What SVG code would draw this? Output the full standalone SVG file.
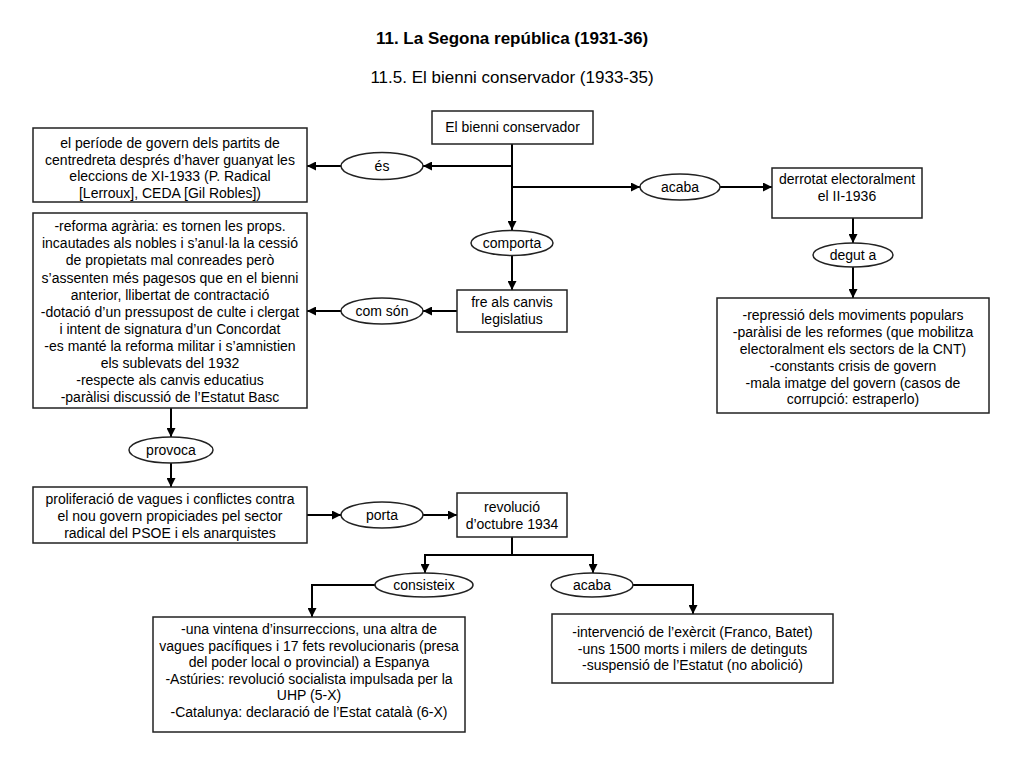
<svg xmlns="http://www.w3.org/2000/svg" width="1024" height="768" viewBox="0 0 1024 768">
<defs>
<marker id="ah" markerUnits="userSpaceOnUse" markerWidth="9" markerHeight="9" viewBox="0 0 10 10" refX="10" refY="5" orient="auto">
<path d="M0,0 L10,5 L0,10 z" fill="#000"/>
</marker>
</defs>
<style>
text{font-family:"Liberation Sans",Arial,sans-serif;fill:#000;text-anchor:middle}
.t{font-size:17px}
.b{font-weight:bold}
.n{font-size:14px}
.box{fill:#fff;stroke:#222;stroke-width:1.5}
.ell{fill:#fff;stroke:#222;stroke-width:1.5}
.c{fill:none;stroke:#000;stroke-width:2}
.a{fill:none;stroke:#000;stroke-width:2;marker-end:url(#ah)}
</style>
<rect width="1024" height="768" fill="#fff"/>
<text class="t b" x="512" y="44">11. La Segona república (1931-36)</text>
<text class="t" x="512" y="83">11.5. El bienni conservador (1933-35)</text>

<g id="connectors">
<path class="a" d="M512,144 V230"/>
<path class="a" d="M512,166 H423"/>
<path class="a" d="M341,166 H307"/>
<path class="a" d="M512,187 H640"/>
<path class="a" d="M720,187 H772"/>
<path class="a" d="M853,218 V243"/>
<path class="a" d="M853,267 V298"/>
<path class="a" d="M512,255.5 V290"/>
<path class="a" d="M457,311 H423"/>
<path class="a" d="M341,311 H307"/>
<path class="a" d="M171,408 V437"/>
<path class="a" d="M171,463 V487"/>
<path class="a" d="M307,515 H341"/>
<path class="a" d="M423,515 H457"/>
<path class="c" d="M512,537 V555 M425,555 H593"/>
<path class="a" d="M425,554 V573"/>
<path class="a" d="M593,554 V573"/>
<path class="a" d="M375,585 H312 V617"/>
<path class="a" d="M633,585 H693 V614"/>
</g>

<g id="n-bienni">
<rect class="box" x="432" y="111" width="161" height="33"/>
<text class="n" x="512.5" y="132">El bienni conservador</text>
</g>
<g id="l-es">
<ellipse class="ell" cx="382" cy="166" rx="41" ry="13.5"/>
<text class="n" x="382" y="171">és</text>
</g>
<g id="n-periode">
<rect class="box" x="33" y="128" width="274" height="74"/>
<text class="n" x="170" y="148">el període de govern dels partits de</text>
<text class="n" x="170" y="164.5">centredreta després d’haver guanyat les</text>
<text class="n" x="170" y="181">eleccions de XI-1933 (P. Radical</text>
<text class="n" x="170" y="197.5">[Lerroux], CEDA [Gil Robles])</text>
</g>
<g id="l-acaba1">
<ellipse class="ell" cx="680" cy="187" rx="40" ry="13"/>
<text class="n" x="680" y="192">acaba</text>
</g>
<g id="n-derrotat">
<rect class="box" x="772" y="168" width="150" height="50"/>
<text class="n" x="847" y="184">derrotat electoralment</text>
<text class="n" x="847" y="201">el II-1936</text>
</g>
<g id="l-degut">
<ellipse class="ell" cx="853" cy="255" rx="40" ry="12"/>
<text class="n" x="853" y="260">degut a</text>
</g>
<g id="n-causes">
<rect class="box" x="717" y="298" width="272" height="115"/>
<text class="n" x="853" y="320">-repressió dels moviments populars</text>
<text class="n" x="853" y="337">-paràlisi de les reformes (que mobilitza</text>
<text class="n" x="853" y="354">electoralment els sectors de la CNT)</text>
<text class="n" x="853" y="370.5">-constants crisis de govern</text>
<text class="n" x="853" y="387.5">-mala imatge del govern (casos de</text>
<text class="n" x="853" y="404">corrupció: estraperlo)</text>
</g>
<g id="l-comporta">
<ellipse class="ell" cx="512" cy="243" rx="41" ry="12.5"/>
<text class="n" x="512" y="248">comporta</text>
</g>
<g id="n-fre">
<rect class="box" x="457" y="290" width="110" height="42"/>
<text class="n" x="512" y="307">fre als canvis</text>
<text class="n" x="512" y="324">legislatius</text>
</g>
<g id="l-comson">
<ellipse class="ell" cx="382" cy="311" rx="41" ry="13"/>
<text class="n" x="382" y="316">com són</text>
</g>
<g id="n-reformes">
<rect class="box" x="33" y="213" width="274" height="195"/>
<text class="n" x="170" y="231">-reforma agrària: es tornen les props.</text>
<text class="n" x="170" y="248">incautades als nobles i s’anul·la la cessió</text>
<text class="n" x="170" y="265">de propietats mal conreades però</text>
<text class="n" x="170" y="282.5">s’assenten més pagesos que en el bienni</text>
<text class="n" x="170" y="299.5">anterior, llibertat de contractació</text>
<text class="n" x="170" y="316.5">-dotació d’un pressupost de culte i clergat</text>
<text class="n" x="170" y="333.5">i intent de signatura d’un Concordat</text>
<text class="n" x="170" y="350.5">-es manté la reforma militar i s’amnistien</text>
<text class="n" x="170" y="368">els sublevats del 1932</text>
<text class="n" x="170" y="385">-respecte als canvis educatius</text>
<text class="n" x="170" y="402">-paràlisi discussió de l’Estatut Basc</text>
</g>
<g id="l-provoca">
<ellipse class="ell" cx="171" cy="450" rx="42" ry="13"/>
<text class="n" x="171" y="455">provoca</text>
</g>
<g id="n-proliferacio">
<rect class="box" x="33" y="487" width="274" height="56"/>
<text class="n" x="170" y="504">proliferació de vagues i conflictes contra</text>
<text class="n" x="170" y="521">el nou govern propiciades pel sector</text>
<text class="n" x="170" y="537.5">radical del PSOE i els anarquistes</text>
</g>
<g id="l-porta">
<ellipse class="ell" cx="382" cy="515" rx="41" ry="13"/>
<text class="n" x="382" y="520">porta</text>
</g>
<g id="n-revolucio">
<rect class="box" x="457" y="493" width="110" height="44"/>
<text class="n" x="512" y="512">revolució</text>
<text class="n" x="512" y="529">d’octubre 1934</text>
</g>
<g id="l-consisteix">
<ellipse class="ell" cx="424" cy="585" rx="49" ry="12"/>
<text class="n" x="424" y="590">consisteix</text>
</g>
<g id="l-acaba2">
<ellipse class="ell" cx="592" cy="585" rx="41" ry="12"/>
<text class="n" x="592" y="590">acaba</text>
</g>
<g id="n-insurreccions">
<rect class="box" x="153" y="617" width="312" height="115"/>
<text class="n" x="309" y="633.5">-una vintena d’insurreccions, una altra de</text>
<text class="n" x="309" y="650.5">vagues pacífiques i 17 fets revolucionaris (presa</text>
<text class="n" x="309" y="667">del poder local o provincial) a Espanya</text>
<text class="n" x="309" y="683.5">-Astúries: revolució socialista impulsada per la</text>
<text class="n" x="309" y="700">UHP (5-X)</text>
<text class="n" x="309" y="717">-Catalunya: declaració de l’Estat català (6-X)</text>
</g>
<g id="n-intervencio">
<rect class="box" x="552" y="614" width="281" height="69"/>
<text class="n" x="692.5" y="637">-intervenció de l’exèrcit (Franco, Batet)</text>
<text class="n" x="692.5" y="653.5">-uns 1500 morts i milers de detinguts</text>
<text class="n" x="692.5" y="670">-suspensió de l’Estatut (no abolició)</text>
</g>
</svg>
